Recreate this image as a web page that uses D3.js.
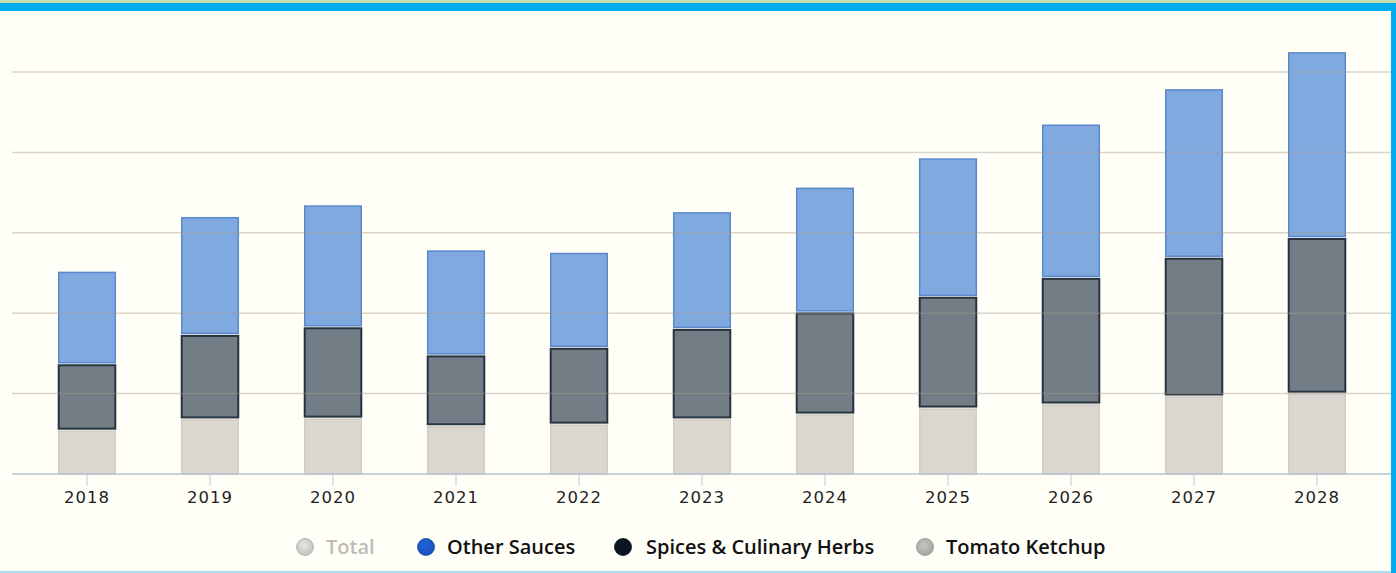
<!DOCTYPE html>
<html lang="en">
<head>
    <meta charset="UTF-8">
    <title>Sauces, Dressings and Condiments</title>
    <script src="https://d3js.org/d3.v7.min.js"></script>
    <style>
        html, body { margin: 0; padding: 0; background: #fffef7; }
        svg { display: block; }
        .tick-label { font-family: "DejaVu Sans", sans-serif; font-size: 16.5px; fill: #1e1e1e; letter-spacing: 1px; }
        .legend text { font-family: "Open Sans", sans-serif; font-size: 18px; font-weight: 600; }
    </style>
</head>
<body>
<div id="chart"></div>
<script>
    // values (gridline step = 20)
    const years = ["2018", "2019", "2020", "2021", "2022", "2023", "2024", "2025", "2026", "2027", "2028"];
    const tomatoKetchup = [10.9, 13.7, 13.9, 12.0, 12.4, 13.7, 14.9, 16.4, 17.4, 19.4, 20.1];
    const spicesHerbs   = [16.4, 20.9, 22.6, 17.5, 19.0, 22.4, 25.3, 27.7, 31.4, 34.4, 38.6];
    const otherSauces   = [23.1, 29.4, 30.4, 26.2, 23.7, 29.1, 31.1, 34.5, 38.2, 42.0, 46.3];
    const gridTicks = [20, 40, 60, 80, 100];

    const width = 1396, height = 573;
    const svg = d3.select("#chart").append("svg")
        .attr("width", width)
        .attr("height", height);

    svg.append("rect").attr("width", width).attr("height", height).attr("fill", "#fffef7");

    const x = d3.scaleBand()
        .domain(years)
        .range([25.5, 1378.5])
        .paddingInner(0.528)
        .paddingOuter(0.264);

    const y = d3.scaleLinear()
        .domain([0, 100])
        .range([474, 72]);

    const rows = years.map((yr, i) => ({
        year: yr,
        ketchup: tomatoKetchup[i],
        spices: spicesHerbs[i],
        sauces: otherSauces[i]
    }));

    const series = d3.stack().keys(["ketchup", "spices", "sauces"])(rows);

    const styles = {
        ketchup: { fill: "#dcd6d1", stroke: "#d2ccc6", sw: 1.5 },
        spices:  { fill: "#737d85", stroke: "#263440", sw: 2 },
        sauces:  { fill: "#80a9e0", stroke: "#5a88cc", sw: 1.5 }
    };

    const bars = svg.append("g");
    series.forEach(s => {
        bars.append("g")
            .selectAll("rect")
            .data(s)
            .join("rect")
            .attr("x", d => x(d.data.year) + 0.75)
            .attr("width", x.bandwidth() - 1.5)
            .attr("y", d => y(d[1]) + 1)
            .attr("height", d => Math.max(0, y(d[0]) - y(d[1]) - (s.key === "ketchup" ? 1 : 2.5)))
            .attr("fill", styles[s.key].fill)
            .attr("stroke", styles[s.key].stroke)
            .attr("stroke-width", styles[s.key].sw);
    });

    // gridlines sit over the bars, faintly
    svg.append("g")
        .selectAll("line")
        .data(gridTicks)
        .join("line")
        .attr("x1", 12)
        .attr("x2", 1391)
        .attr("y1", d => y(d))
        .attr("y2", d => y(d))
        .attr("stroke", "#a89c90")
        .attr("stroke-opacity", 0.42)
        .attr("stroke-width", 1.5);

    // x axis
    const xAxis = svg.append("g").attr("transform", "translate(0,474)");
    xAxis.append("line")
        .attr("x1", 12).attr("x2", 1391)
        .attr("stroke", "#b4c3d3").attr("stroke-width", 1.5);
    const ticks = xAxis.selectAll("g.t")
        .data(years)
        .join("g")
        .attr("class", "t")
        .attr("transform", d => `translate(${x(d) + x.bandwidth() / 2},0)`);
    ticks.append("line")
        .attr("y1", 1).attr("y2", 12)
        .attr("stroke", "#c8d4e0").attr("stroke-width", 1.2);
    ticks.append("text")
        .attr("class", "tick-label")
        .attr("y", 29)
        .attr("text-anchor", "middle")
        .text(d => d);

    // legend
    const defs = svg.append("defs");
    const legendItems = [
        { name: "Total", color: "#c2c0bd", text: "#bdbbb8", cx: 305, tx: 326 },
        { name: "Other Sauces", color: "#1a52b8", text: "#111", cx: 426, tx: 447 },
        { name: "Spices & Culinary Herbs", color: "#08131d", text: "#111", cx: 623, tx: 646 },
        { name: "Tomato Ketchup", color: "#a6a4a0", text: "#111", cx: 925, tx: 946 }
    ];
    legendItems.forEach((d, i) => {
        const g = defs.append("radialGradient").attr("id", "lg" + i)
            .attr("cx", "45%").attr("cy", "40%").attr("r", "60%");
        g.append("stop").attr("offset", "0%").attr("stop-color", d3.color(d.color).brighter(0.5));
        g.append("stop").attr("offset", "100%").attr("stop-color", d.color);
    });
    const legend = svg.append("g").attr("class", "legend");
    const items = legend.selectAll("g")
        .data(legendItems)
        .join("g");
    items.append("circle")
        .attr("cx", d => d.cx).attr("cy", 547).attr("r", 8.5)
        .attr("fill", (d, i) => `url(#lg${i})`)
        .attr("stroke", d => d3.color(d.color).darker(0.3))
        .attr("stroke-width", 0.8);
    items.append("text")
        .attr("x", d => d.tx).attr("y", 553.5)
        .attr("fill", d => d.text)
        .text(d => d.name);

    // fit legend font so "Spices & Culinary Herbs" spans roughly as in the picture
    const probe = items.filter(d => d.name === "Spices & Culinary Herbs").select("text").node();
    const w = probe.getComputedTextLength();
    const fs = Math.max(14, Math.min(20, 18 * 229 / w));
    legend.selectAll("text").style("font-size", fs + "px");

    // frame
    svg.append("rect").attr("x", 0).attr("y", 0).attr("width", width).attr("height", 3).attr("fill", "#c6deb2");
    svg.append("rect").attr("x", 0).attr("y", 3).attr("width", width).attr("height", 8).attr("fill", "#00aeef");
    svg.append("rect").attr("x", 1391).attr("y", 3).attr("width", 5).attr("height", height).attr("fill", "#00aeef");
    svg.append("rect").attr("x", 0).attr("y", 571).attr("width", 1391).attr("height", 2).attr("fill", "#a6e0f2");
</script>
</body>
</html>
